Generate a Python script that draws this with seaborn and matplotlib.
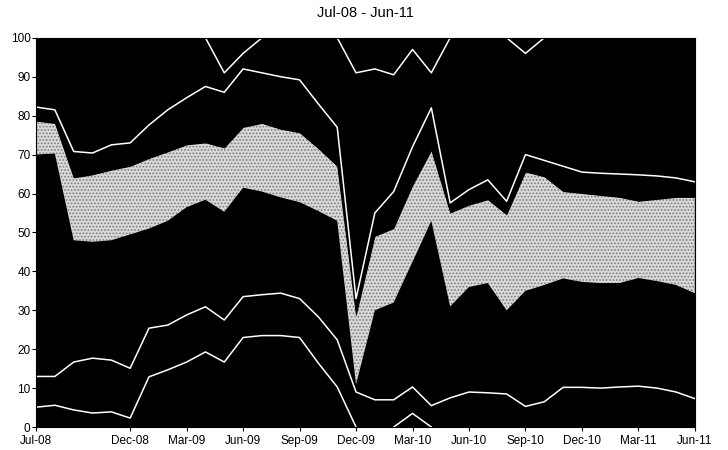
"""
Stacked share chart, Jul-08 to Jun-11 (monthly), redrawn from a scanned figure.
"""

import numpy as np
import matplotlib
matplotlib.use("Agg")
import matplotlib.pyplot as plt
import seaborn as sns

# month index 0 = Jul-08 ... 35 = Jun-11
months = list(range(36))

tick_pos = [0, 5, 8, 11, 14, 17, 20, 23, 26, 29, 32, 35]
tick_labels = ['Jul-08', 'Dec-08', 'Mar-09', 'Jun-09', 'Sep-09', 'Dec-09',
               'Mar-10', 'Jun-10', 'Sep-10', 'Dec-10', 'Mar-11', 'Jun-11']

# cumulative tops of each stacked band (percent)
top_1 = [5.1, 5.6, 4.4, 3.6, 3.9, 2.3,
         12.9, 14.7, 16.7, 19.3, 16.7, 23.0,
         23.5, 23.5, 23.0, 16.4, 10.3, 0.0,
         0.0, 0.0, 3.5, 0.0, 0.0, 0.0,
         0.0, 0.0, 0.0, 0.0, 0.0, 0.0,
         0.0, 0.0, 0.0, 0.0, 0.0, 0.0]
top_2 = [13.0, 13.0, 16.7, 17.7, 17.2, 15.1,
         25.4, 26.2, 28.8, 30.9, 27.5, 33.5,
         34.0, 34.4, 33.0, 28.3, 22.4, 9.0,
         7.0, 7.0, 10.3, 5.5, 7.5, 9.0,
         8.8, 8.5, 5.3, 6.5, 10.2, 10.2,
         10.0, 10.3, 10.5, 10.0, 9.0, 7.3]
top_3 = [70.0, 70.3, 48.0, 47.6, 48.0, 49.5,
         51.0, 53.0, 56.5, 58.4, 55.3, 61.5,
         60.5, 59.0, 57.8, 55.5, 53.0, 11.0,
         30.0, 32.0, 42.5, 53.0, 31.0, 36.0,
         37.0, 30.0, 35.0, 36.5, 38.2, 37.3,
         37.0, 37.0, 38.3, 37.5, 36.5, 34.4]
top_4 = [78.6, 78.0, 64.0, 64.8, 66.0, 67.0,
         69.0, 70.7, 72.5, 73.0, 71.7, 77.0,
         78.0, 76.5, 75.6, 71.5, 67.0, 28.5,
         49.0, 51.0, 62.0, 71.0, 55.0, 57.0,
         58.4, 54.5, 65.5, 64.3, 60.5, 60.0,
         59.5, 59.0, 58.0, 58.5, 59.0, 59.0]
top_5 = [82.2, 81.5, 70.8, 70.4, 72.5, 73.0,
         77.6, 81.5, 84.6, 87.5, 86.0, 92.0,
         91.0, 90.0, 89.2, 83.0, 77.0, 33.0,
         55.0, 60.5, 72.0, 82.0, 57.6, 61.0,
         63.5, 58.0, 70.0, 68.5, 67.0, 65.5,
         65.2, 65.0, 64.8, 64.5, 64.0, 63.0]
top_6 = [100, 100, 100, 100, 100, 100,
         100, 100, 100, 100, 91.0, 96.0,
         100, 100, 100, 100, 100, 91.0,
         92.0, 90.5, 97.0, 91.0, 100, 100,
         100, 100, 96.0, 100, 100, 100,
         100, 100, 100, 100, 100, 100]


def hide_flat(vals, level):
    """Blank out runs sitting on the axis edge so no white line shows there."""
    v = np.array(vals, dtype=float)
    out = v.copy()
    for i in range(len(v)):
        lo = v[max(i - 1, 0)]
        hi = v[min(i + 1, len(v) - 1)]
        if v[i] == level and lo == level and hi == level:
            out[i] = np.nan
    return out


def draw_chart():
    sns.set_theme(style="ticks")
    plt.rcParams['font.family'] = ['Liberation Sans Narrow', 'Liberation Sans', 'DejaVu Sans']
    plt.rcParams['hatch.linewidth'] = 0.8

    fig = plt.figure(figsize=(7.28, 4.5), dpi=100)
    ax = fig.add_axes([0.0495, 0.051, 0.905, 0.865])
    ax.set_facecolor('black')

    x = np.array(months)
    bounds = [np.zeros(36), top_1, top_2, top_3, top_4, top_5, top_6, np.full(36, 100.0)]
    for k in range(7):
        lo, hi = np.array(bounds[k]), np.array(bounds[k + 1])
        if k == 3:
            ax.fill_between(x, lo, hi, facecolor='#d9d9d9', edgecolor='#7a7a7a',
                            hatch='.....', linewidth=0, zorder=1)
        else:
            ax.fill_between(x, lo, hi, color='black', linewidth=0, zorder=1)

    # white separator lines between the black bands (plain plot keeps NaN gaps)
    for vals, lvl in [(top_1, 0.0), (top_2, 0.0), (top_5, 0.0), (top_6, 100)]:
        ax.plot(x, hide_flat(vals, lvl), color='white', linewidth=1.1, zorder=2)

    ax.set_xlim(0, 35)
    ax.set_ylim(0, 100)
    ax.set_yticks(range(0, 101, 10))
    ax.set_xticks(tick_pos)
    ax.set_xticklabels(tick_labels)
    ax.tick_params(direction='out', length=3, width=0.8, labelsize=8.5,
                   colors='black')
    ax.tick_params(axis='y', pad=1)
    ax.tick_params(axis='x', pad=3)
    for s in ax.spines.values():
        s.set_color('black')
        s.set_linewidth(0.8)

    fig.text(0.502, 0.972, 'Jul-08 - Jun-11', ha='center', va='center',
             fontsize=10.5, color='black')

    fig.savefig('out.png', dpi=100)


if __name__ == "__main__":
    draw_chart()
